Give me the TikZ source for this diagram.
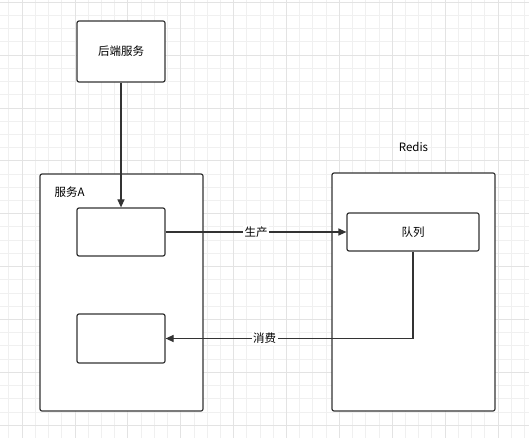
\documentclass[tikz,border=0pt]{standalone}
\usepackage{fontspec}
\setmainfont{Noto Sans CJK SC}
\usetikzlibrary{positioning,arrows.meta}

\begin{document}
\begin{tikzpicture}[
    x=1pt, y=-1pt,
    gridline/.style={draw=black!6, line width=0.7pt},
    gridmajor/.style={draw=black!11, line width=0.7pt},
    box/.style={draw=black!80, line width=1.2pt, rounded corners=2pt, fill=white, inner sep=0pt, font=\fontsize{11.5}{13}\selectfont},
    group/.style={box, minimum width=163pt, minimum height=237pt},
    svc/.style={box, minimum width=88pt, minimum height=48pt},
    flow/.style={draw=black!80, line width=1.2pt, -{Triangle[length=8pt,width=7pt]}},
    lbl/.style={fill=white, inner sep=1.5pt, font=\fontsize{11.5}{13}\selectfont},
    title/.style={font=\fontsize{11.5}{13}\selectfont}
]
\useasboundingbox (0,0) rectangle (529,438);

% Grid
\fill[white] (0,0) rectangle (529,438);
\foreach \i in {-1,...,38} {
    \draw[gridline] ({22+13.22*\i},0) -- ({22+13.22*\i},438);
}
\foreach \i in {0,...,33} {
    \draw[gridline] (0,{2.1+13.22*\i}) -- (529,{2.1+13.22*\i});
}
\foreach \i in {0,...,9} {
    \draw[gridmajor] ({22+52.88*\i},0) -- ({22+52.88*\i},438);
}
\foreach \i in {0,...,8} {
    \draw[gridmajor] (0,{2.1+52.88*\i}) -- (529,{2.1+52.88*\i});
}

% Backend
\node[svc, minimum height=61pt] (backend) at (121,51.5) {后端服务};

% Service A
\node[group] (svcA) at (121.5,292.5) {};
\node[title, anchor=west] at (51,192) {服务A};
\node[svc] (prod) at (121,232) {};
\node[svc, minimum height=49pt] (cons) at (121,338.5) {};

% Redis
\node[group, minimum height=238pt] (redis) at (413.5,292) {};
\node[title, above=17pt of redis] {Redis};
\node[box, minimum width=132pt, minimum height=38pt] (queue) at (413,232) {队列};

% Flows
\draw[flow] (backend) -- (prod);
\draw[flow] (prod) -- node[lbl] {生产} (queue);
\draw[flow] (queue.south) |- node[lbl, pos=0.8] {消费} (cons.east);

\end{tikzpicture}
\end{document}
